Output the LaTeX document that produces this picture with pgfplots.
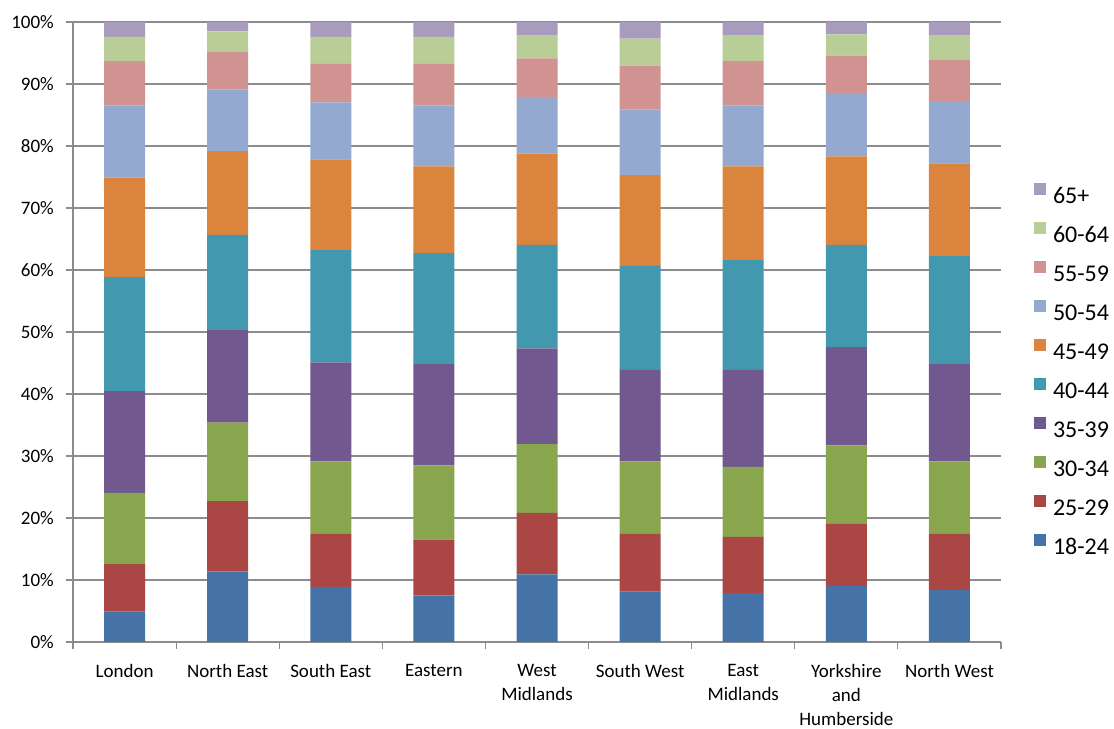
\documentclass[border=0pt]{standalone}
\usepackage{pgfplots}
\pgfplotsset{compat=1.18}
\usepackage{pgfplotstable}
\usepackage{fontspec}
\setmainfont{Carlito}

\definecolor{cA}{HTML}{4572A7}
\definecolor{cB}{HTML}{AA4643}
\definecolor{cC}{HTML}{89A54E}
\definecolor{cD}{HTML}{71588F}
\definecolor{cE}{HTML}{4198AF}
\definecolor{cF}{HTML}{DB843D}
\definecolor{cG}{HTML}{93A9CF}
\definecolor{cH}{HTML}{D19392}
\definecolor{cI}{HTML}{B9CD96}
\definecolor{cJ}{HTML}{A99BBD}
\definecolor{gridgray}{HTML}{8C8C8C}

\pgfplotstableread{
x a     b     c     d     e     f     g     h    i    j
0 4.91  7.66  11.49 16.39 18.40 16.05 11.63 7.14 3.93 2.40
1 11.38 11.33 12.67 14.94 15.35 13.51 9.93  6.17 3.22 1.50
2 8.90  8.52  11.71 15.96 18.11 14.64 9.18  6.22 4.36 2.40
3 7.50  9.00  11.98 16.34 17.89 14.01 9.81  6.71 4.36 2.40
4 10.90 9.92  11.11 15.43 16.70 14.70 9.12  6.27 3.65 2.20
5 8.14  9.28  11.71 14.77 16.78 14.64 10.57 7.08 4.35 2.68
6 7.87  9.07  11.32 15.64 17.69 15.13 9.81  7.14 4.13 2.20
7 9.06  9.98  12.68 15.85 16.49 14.27 10.08 6.17 3.42 2.00
8 8.41  9.01  11.71 15.69 17.41 14.97 10.03 6.65 3.92 2.20
}\data

\begin{document}
\begin{tikzpicture}
\useasboundingbox (0,0) rectangle (1114bp,729bp);
\begin{axis}[
  at={(73bp,87bp)}, anchor=south west,
  scale only axis, width=928bp, height=620bp,
  ybar stacked, bar width=41bp,
  xmin=-0.5, xmax=8.5, ymin=0, ymax=100,
  axis x line=bottom, axis y line=left,
  axis line style={-, draw=gridgray, line width=1.2bp},
  ymajorgrids, grid style={draw=gridgray, line width=1.2bp},
  tick align=outside,
  major tick length=7bp, minor tick length=7bp,
  tick style={draw=gridgray, line width=1.2bp},
  xtick={0,...,8},
  major x tick style={draw=none},
  minor xtick={-0.5,0.5,...,8.5},
  xticklabels={London, North East, South East, Eastern, {West\\Midlands}, South West, {East\\Midlands}, {Yorkshire\\and\\Humberside}, North West},
  xticklabel style={font=\fontsize{19bp}{24bp}\selectfont, align=center, anchor=north, inner sep=0pt, yshift=-15bp},
  ytick={0,10,...,100},
  yticklabels={0\%,10\%,20\%,30\%,40\%,50\%,60\%,70\%,80\%,90\%,100\%},
  yticklabel style={font=\fontsize{19bp}{23bp}\selectfont, anchor=east, inner sep=0pt, xshift=-12bp},
  reverse legend,
  legend image code/.code={\fill[#1] (0bp,1.5bp) rectangle (12bp,13.5bp);},
  legend style={draw=none, fill=none, inner sep=0pt, outer sep=0pt,
    at={(1.0356,0.439)}, anchor=west,
    font=\fontsize{24bp}{28bp}\selectfont,
    nodes={inner sep=0pt, text height=17bp, text depth=2bp},
    row sep=16bp, column sep=7bp},
  legend cell align=left,
]
\addplot[fill=cA, draw=none] table[x=x,y=a]{\data};
\addplot[fill=cB, draw=none] table[x=x,y=b]{\data};
\addplot[fill=cC, draw=none] table[x=x,y=c]{\data};
\addplot[fill=cD, draw=none] table[x=x,y=d]{\data};
\addplot[fill=cE, draw=none] table[x=x,y=e]{\data};
\addplot[fill=cF, draw=none] table[x=x,y=f]{\data};
\addplot[fill=cG, draw=none] table[x=x,y=g]{\data};
\addplot[fill=cH, draw=none] table[x=x,y=h]{\data};
\addplot[fill=cI, draw=none] table[x=x,y=i]{\data};
\addplot[fill=cJ, draw=none] table[x=x,y=j]{\data};
\legend{18-24,25-29,30-34,35-39,40-44,45-49,50-54,55-59,60-64,65+}
\end{axis}
\end{tikzpicture}
\end{document}
